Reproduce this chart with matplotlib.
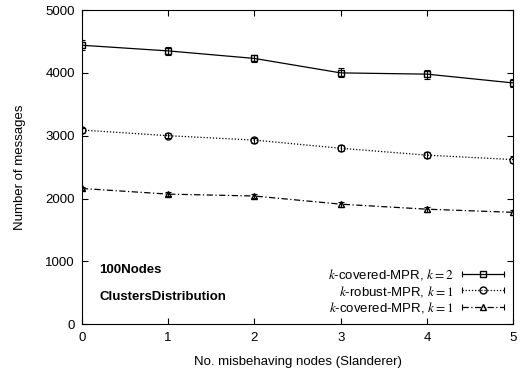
import matplotlib
matplotlib.use("Agg")
import matplotlib.pyplot as plt
from matplotlib.lines import Line2D
from matplotlib.legend_handler import HandlerLine2D, HandlerTuple

plt.rcParams.update({
    "font.family": ["Liberation Sans", "DejaVu Sans"],
    "font.size": 9.5,
    "mathtext.fontset": "stix",
})

# data
misbehaving = [0, 1, 2, 3, 4, 5]
covered_k2 = [4440, 4350, 4230, 4000, 3980, 3840]
covered_k2_err = [80, 70, 60, 70, 70, 70]
robust_k1 = [3090, 3000, 2930, 2800, 2690, 2620]
robust_k1_err = [40, 40, 40, 50, 50, 50]
covered_k1 = [2160, 2070, 2040, 1910, 1830, 1780]
covered_k1_err = [30, 30, 30, 40, 40, 40]

labels = [r"$k$-covered-MPR, $k{=}\mathit{2}$",
          r"$k$-robust-MPR, $k{=}\mathit{1}$",
          r"$k$-covered-MPR, $k{=}\mathit{1}$"]
markers = ["s", "o", "^"]
styles = ["-", (0, (1, 1.5)), (0, (5, 2, 1, 2))]

fig = plt.figure(figsize=(5.28, 3.73), dpi=100)
ax = fig.add_axes([0.155, 0.131, 0.817, 0.842])

common = dict(color="black", mfc="none", markersize=5, capsize=2,
              elinewidth=0.8, capthick=0.8, lw=0.9)
series = [(covered_k2, covered_k2_err), (robust_k1, robust_k1_err),
          (covered_k1, covered_k1_err)]
for (vals, err), m, ls in zip(series, markers, styles):
    ax.errorbar(misbehaving, vals, yerr=err, marker=m, ls=ls, **common)

ax.set_xlim(0, 5)
ax.set_ylim(0, 5000)
ax.set_xticks(misbehaving)
ax.set_yticks([0, 1000, 2000, 3000, 4000, 5000])
ax.tick_params(direction="in", top=True, right=True, length=4)
ax.tick_params(axis="x", pad=6)
ax.tick_params(axis="y", pad=5)
ax.set_xlabel("No. misbehaving nodes (Slanderer)", labelpad=8)
ax.set_ylabel("Number of messages", labelpad=14)

ax.text(0.2, 820, "100Nodes", fontweight="bold")
ax.text(0.2, 380, "ClustersDistribution", fontweight="bold")

# gnuplot-style legend keys: horizontal error bar with caps, marker in middle
handles, hmap = [], {}
for m, ls in zip(markers, styles):
    caps = Line2D([], [], color="black", ls=ls, lw=0.9, marker="|",
                  markersize=5, markeredgewidth=0.8)
    mark = Line2D([], [], color="black", ls="none", marker=m, mfc="none",
                  markersize=5)
    tup = (caps, mark)
    hmap[caps] = HandlerLine2D(numpoints=2, marker_pad=0)
    hmap[mark] = HandlerLine2D(numpoints=1)
    hmap[tup] = HandlerTuple(ndivide=1, pad=0)
    handles.append(tup)

ax.legend(handles, labels, handler_map=hmap, loc="lower right",
          frameon=False, markerfirst=False, handlelength=3.2,
          labelspacing=0.1, borderaxespad=0.3, handletextpad=0.6)

fig.savefig("out.png", dpi=100)
